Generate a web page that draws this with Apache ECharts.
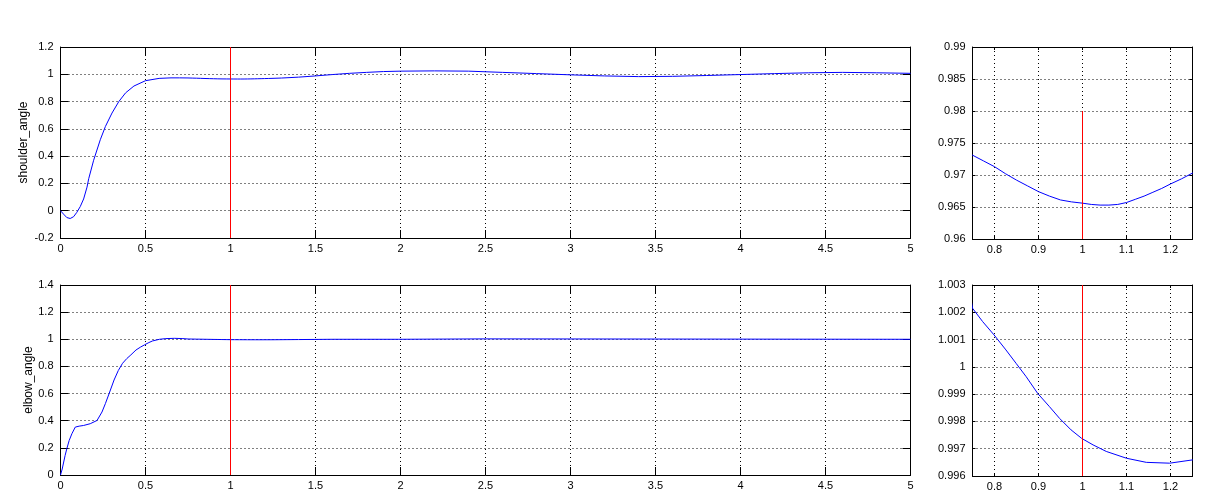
<!DOCTYPE html>
<html>
<head>
<meta charset="utf-8">
<script src="https://cdn.jsdelivr.net/npm/echarts@6/dist/echarts.min.js"></script>
<style>
html,body{margin:0;padding:0;background:#fff;}
#chart{width:1216px;height:500px;}
</style>
</head>
<body>
<div id="chart"></div>
<script>
// ---- data ----
const shoulderT = [0,0.018,0.037,0.057,0.077,0.096,0.116,0.136,0.156,0.166,0.195,0.234,0.264,0.303,0.343,0.383,0.432,0.5,0.58,0.65,0.7,0.75,0.775,0.8,0.825,0.85,0.875,0.9,0.925,0.95,0.975,1.0,1.02,1.04,1.06,1.08,1.1,1.12,1.14,1.16,1.18,1.2,1.225,1.25,1.3,1.4,1.5,1.6,1.7,1.8,1.9,2.0,2.2,2.4,2.6,2.8,3.0,3.2,3.4,3.6,3.8,4.0,4.2,4.4,4.6,4.8,5.0];
const shoulderV = [0,-0.025,-0.05,-0.057,-0.044,-0.012,0.03,0.086,0.173,0.235,0.37,0.52,0.617,0.716,0.80,0.864,0.914,0.953,0.970,0.9738,0.9738,0.9731,0.9722,0.9713,0.9702,0.9692,0.9683,0.9674,0.9667,0.9661,0.9658,0.9656,0.9654,0.9653,0.9653,0.9654,0.9657,0.9662,0.9667,0.9673,0.9679,0.9686,0.9694,0.9703,0.9725,0.979,0.988,0.998,1.007,1.014,1.02,1.023,1.025,1.023,1.014,1.005,0.996,0.988,0.983,0.985,0.991,0.998,1.005,1.011,1.014,1.011,1.007];

const elbowT = [0,0.01,0.027,0.037,0.051,0.067,0.087,0.11,0.136,0.175,0.215,0.244,0.264,0.286,0.315,0.34,0.365,0.39,0.414,0.444,0.47,0.493,0.52,0.542,0.582,0.62,0.67,0.72,0.75,0.773,0.799,0.826,0.849,0.872,0.898,0.925,0.948,0.974,0.998,1.024,1.054,1.1,1.145,1.198,1.25,1.4,1.6,1.99,2.0,2.5,2.51,5.0];
const elbowV = [0,0.044,0.143,0.193,0.254,0.304,0.353,0.36,0.365,0.378,0.402,0.464,0.526,0.60,0.70,0.77,0.823,0.858,0.885,0.921,0.942,0.958,0.976,0.988,1.0,1.005,1.007,1.005,1.00215,1.00166,1.00117,1.00062,1.00013,0.99964,0.99903,0.99854,0.99811,0.99769,0.99738,0.99714,0.9969,0.99665,0.9965,0.99647,0.99659,0.998,1.0,1.0,1.003,1.003,1.0,1.0];

const markerT = 1;
const markerShoulderMain = [-0.2, 1.2];
const markerShoulderZoom = [0.96, 0.98];
const markerElbowMain = [0, 1.4];
const markerElbowZoom = [0.996, 1.003];

const yNames = ['shoulder_angle', 'elbow_angle'];

// ---- chart ----
const FONT = 'Liberation Sans, Arial, sans-serif';
const RED = '#ff0000';
const BLUE = '#0000ff';
const pair = (xs, ys) => xs.map((x, i) => [x, ys[i]]);
const vline = (ys) => [[markerT, ys[0]], [markerT, ys[1]]];

const grids = [
  {left: 60.5, top: 47, width: 850, height: 191},
  {left: 972.5, top: 47, width: 220, height: 192},
  {left: 60.5, top: 285, width: 850, height: 190},
  {left: 972.5, top: 285, width: 220, height: 191}
];

const xCfg = [
  {min: 0, max: 5, interval: 0.5, tick: 8, zoom: false},
  {min: 0.75, max: 1.25, tick: 3, zoom: true},
  {min: 0, max: 5, interval: 0.5, tick: 8, zoom: false},
  {min: 0.75, max: 1.25, tick: 3, zoom: true}
];
const yCfg = [
  {min: -0.2, max: 1.2, interval: 0.2, tick: 8, name: yNames[0], gap: 31},
  {min: 0.96, max: 0.99, interval: 0.005, tick: 3},
  {min: 0, max: 1.4, interval: 0.2, tick: 8, name: yNames[1], gap: 26},
  {min: 0.996, max: 1.003, interval: 0.001, tick: 3}
];

const axisLine = {show: true, onZero: false, lineStyle: {color: '#000', width: 1}};
const splitLine = {show: true, lineStyle: {color: '#000', width: 1, type: [1, 3]}};

const xAxis = [], yAxis = [];
grids.forEach((g, i) => {
  const xc = xCfg[i], yc = yCfg[i];
  const xBase = {type: 'value', gridIndex: i, min: xc.min, max: xc.max, z: 0};
  if (xc.interval) xBase.interval = xc.interval;
  xAxis.push(Object.assign({}, xBase, {
    position: 'bottom',
    axisLine: axisLine,
    axisTick: {show: true, inside: true, length: xc.tick, lineStyle: {color: '#000'}},
    axisLabel: {color: '#000', fontFamily: FONT, fontSize: 11, margin: 5,
      showMinLabel: !xc.zoom, showMaxLabel: !xc.zoom},
    splitLine: splitLine
  }));
  xAxis.push(Object.assign({}, xBase, {
    position: 'top',
    axisLine: axisLine,
    axisTick: {show: true, inside: true, length: xc.tick, lineStyle: {color: '#000'}},
    axisLabel: {show: false},
    splitLine: {show: false}
  }));
  const yBase = {type: 'value', gridIndex: i, min: yc.min, max: yc.max, interval: yc.interval, z: 0};
  yAxis.push(Object.assign({}, yBase, {
    position: 'left',
    name: yc.name || '',
    nameLocation: 'middle',
    nameGap: yc.gap || 30,
    nameMoveOverlap: false,
    nameTextStyle: {color: '#000', fontFamily: FONT, fontSize: 12},
    axisLine: axisLine,
    axisTick: {show: true, inside: true, length: yc.tick, lineStyle: {color: '#000'}},
    axisLabel: {color: '#000', fontFamily: FONT, fontSize: 11, margin: 7},
    splitLine: splitLine
  }));
  yAxis.push(Object.assign({}, yBase, {
    position: 'right',
    axisLine: axisLine,
    axisTick: {show: true, inside: true, length: yc.tick, lineStyle: {color: '#000'}},
    axisLabel: {show: false},
    splitLine: {show: false}
  }));
});

const lineSeries = (data, gi, color, clip, z) => ({
  type: 'line',
  xAxisIndex: gi * 2,
  yAxisIndex: gi * 2,
  data: data,
  showSymbol: false,
  symbol: 'none',
  clip: clip,
  animation: false,
  lineStyle: {color: color, width: 1, opacity: 1},
  itemStyle: {color: color},
  emphasis: {disabled: true},
  z: z
});

const shoulder = pair(shoulderT, shoulderV);
const elbow = pair(elbowT, elbowV);

const series = [
  lineSeries(vline(markerShoulderMain), 0, RED, false, 6),
  lineSeries(shoulder, 0, BLUE, true, 5),
  lineSeries(shoulder, 1, BLUE, true, 5),
  lineSeries(vline(markerShoulderZoom), 1, RED, false, 6),
  lineSeries(vline(markerElbowMain), 2, RED, false, 6),
  lineSeries(elbow, 2, BLUE, true, 5),
  lineSeries(elbow, 3, BLUE, true, 5),
  lineSeries(vline(markerElbowZoom), 3, RED, false, 6)
];

const chart = echarts.init(document.getElementById('chart'), null, {renderer: 'canvas'});
chart.setOption({
  backgroundColor: '#ffffff',
  animation: false,
  grid: grids.map(g => Object.assign({containLabel: false, outerBoundsMode: 'none'}, g)),
  xAxis: xAxis,
  yAxis: yAxis,
  series: series
});
</script>
</body>
</html>
